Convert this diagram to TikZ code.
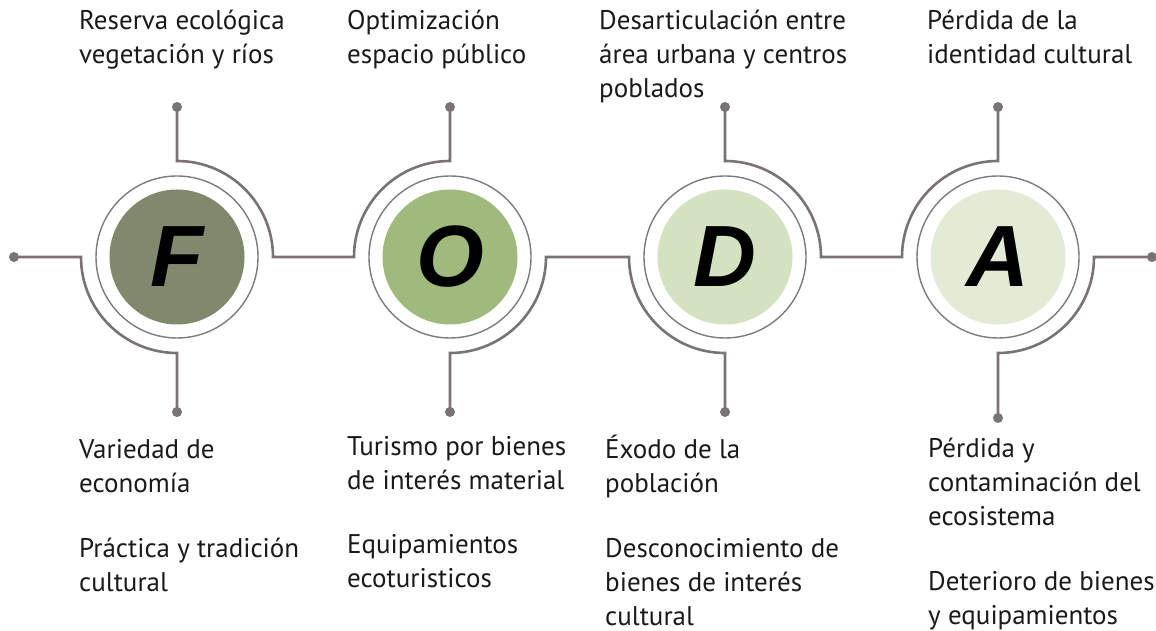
\documentclass[tikz,border=0pt]{standalone}
\usepackage{fontspec}
\setmainfont{PT Sans}
\newfontfamily\letterfont{Liberation Sans}
\usetikzlibrary{calc}
\definecolor{linegray}{RGB}{122,115,115}
\definecolor{ringgray}{RGB}{128,122,122}
\definecolor{fcol}{RGB}{128,137,107}
\definecolor{ocol}{RGB}{160,186,125}
\definecolor{dcol}{RGB}{212,226,194}
\definecolor{acol}{RGB}{227,235,214}
\definecolor{txtcol}{RGB}{26,26,26}
\begin{document}
\begin{tikzpicture}[x=1pt,y=1pt,
  conn/.style={draw=linegray, line width=2.6pt},
  ring/.style={circle, draw=ringgray, line width=1.4pt, minimum size=162pt, inner sep=0pt},
  disc/.style={circle, fill=#1, minimum size=135pt, inner sep=0pt},
  dotnode/.style={circle, fill=linegray, minimum size=10pt, inner sep=0pt},
  lbl/.style={inner sep=0pt, font=\letterfont\bfseries\itshape\fontsize{87}{87}\selectfont},
  txt/.style={anchor=north west, inner sep=0pt, align=left, text=txtcol, font=\fontsize{27}{34}\selectfont}]
\useasboundingbox (0,0) rectangle (1156,631);
\fill[white] (0,0) rectangle (1156,631);

% circles
\node[ring] (F) at (177,374) {};
\node[ring] (O) at (450,374) {};
\node[ring] (D) at (725,374) {};
\node[ring] (A) at (998,374) {};
\node[disc=fcol] (Fd) at (F) {};
\node[disc=ocol] (Od) at (O) {};
\node[disc=dcol] (Dd) at (D) {};
\node[disc=acol] (Ad) at (A) {};
\node[lbl] (Fl) at (F) {F};
\node[lbl] (Ol) at (O) {O};
\node[lbl] (Dl) at (D) {D};
\node[lbl] (Al) at (A) {A};

% dots
\node[dotnode] (Lend) at (14,374) {};
\node[dotnode] (Rend) at (1152,374) {};
\node[dotnode] (FT) at (177,524) {};
\node[dotnode] (FB) at (177,219) {};
\node[dotnode] (OT) at (450,524) {};
\node[dotnode] (OB) at (450,219) {};
\node[dotnode] (DT) at (725,524) {};
\node[dotnode] (DB) at (725,219) {};
\node[dotnode] (AT) at (998,524) {};
\node[dotnode] (AB) at (998,213) {};

% connectors
\draw[conn] (Lend.center) -- ($(F)+(-96,0)$) arc[start angle=180, end angle=270, radius=96] -- (FB.center);
\draw[conn] (FT.center) -- ($(F)+(0,96)$) arc[start angle=90, end angle=0, radius=96]
  -- ($(O)+(-96,0)$) arc[start angle=180, end angle=90, radius=96] -- (OT.center);
\draw[conn] (OB.center) -- ($(O)+(0,-96)$) arc[start angle=270, end angle=360, radius=96]
  -- ($(D)+(-96,0)$) arc[start angle=180, end angle=270, radius=96] -- (DB.center);
\draw[conn] (DT.center) -- ($(D)+(0,96)$) arc[start angle=90, end angle=0, radius=96]
  -- ($(A)+(-96,0)$) arc[start angle=180, end angle=90, radius=96] -- (AT.center);
\draw[conn] (AB.center) -- ($(A)+(0,-96)$) arc[start angle=270, end angle=360, radius=96] -- (Rend.center);

% texts
\node[txt] (t1) at (79,625.8) {\strut Reserva ecológica\\vegetación y ríos};
\node[txt] (t2) at (347,625.8) {\strut Optimización\\espacio público};
\node[txt] (t3) at (599,625.8) {\strut Desarticulación entre\\área urbana y centros\\poblados};
\node[txt] (t4) at (927,625.8) {\strut Pérdida de la\\identidad cultural};

\node[txt] (b1) at (79,196.8) {\strut Variedad de\\economía};
\node[txt] (b2) at (79,97.8) {\strut Práctica y tradición\\cultural};
\node[txt] (b3) at (347,199.8) {\strut Turismo por bienes\\de interés material};
\node[txt] (b4) at (347,101.8) {\strut Equipamientos\\ecoturisticos};
\node[txt] (b5) at (605,196.8) {\strut Éxodo de la\\población};
\node[txt] (b6) at (605,97.8) {\strut Desconocimiento de\\bienes de interés\\cultural};
\node[txt] (b7) at (928,197.8) {\strut Pérdida y\\contaminación del\\ecosistema};
\node[txt] (b8) at (928,64.8) {\strut Deterioro de bienes\\y equipamientos};
\end{tikzpicture}
\end{document}
